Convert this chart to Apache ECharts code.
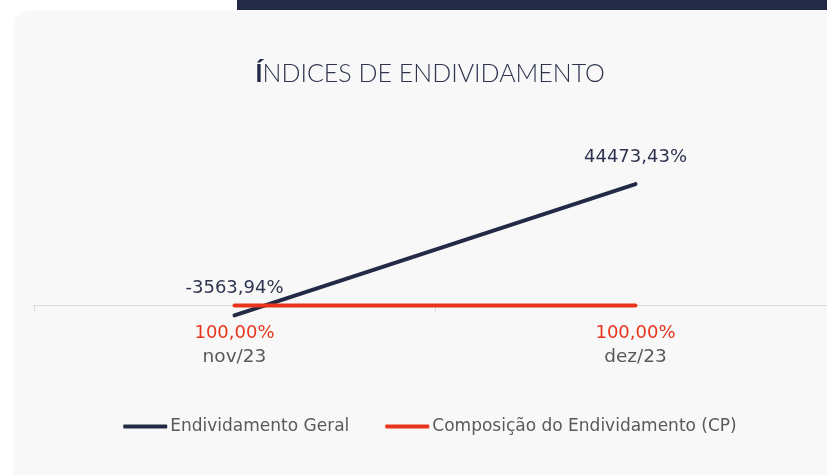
<!DOCTYPE html>
<html>
<head>
<meta charset="utf-8">
<script src="https://cdn.jsdelivr.net/npm/echarts@6/dist/echarts.min.js"></script>
<style>
  html, body { margin: 0; padding: 0; background: #fff; overflow: hidden; }
  #chart { width: 860px; height: 475px; }
</style>
</head>
<body>
<div id="chart"></div>
<script>
// dados
var meses = ['nov/23', 'dez/23']
var endividamentoGeral = [-3563.94, 44473.43]
var composicaoCP = [100.00, 100.00]
var nomes = ['Endividamento Geral', 'Composição do Endividamento (CP)']

function pct(v) {
  return v.toFixed(2).replace('.', ',') + '%'
}

var fonteTitulo = 'Lato, "Open Sans", sans-serif'
var fonte = '"DejaVu Sans", sans-serif'
var myChart = echarts.init(document.getElementById('chart'))

var option = {
  backgroundColor: '#fff',
  graphic: [
    {
      type: 'rect',
      z: -10,
      shape: { x: 14, y: 11, width: 880, height: 500, r: 16 },
      style: { fill: '#f8f8f8' }
    },
    {
      type: 'rect',
      z: -9,
      shape: { x: 237, y: 0, width: 640, height: 10 },
      style: { fill: '#222a45' }
    }
  ],
  title: {
    text: '{b|Í}NDICES DE ENDIVIDAMENTO',
    left: 'center',
    top: 56,
    textStyle: {
      fontFamily: fonteTitulo,
      fontWeight: 300,
      fontSize: 25,
      color: '#2e344f',
      rich: {
        b: { fontFamily: fonteTitulo, fontWeight: 'bold', fontSize: 25, color: '#222a45' }
      }
    }
  },
  legend: {
    bottom: 35,
    left: 'center',
    itemWidth: 44,
    itemHeight: 4,
    itemGap: 36,
    icon: 'roundRect',
    textStyle: { fontFamily: fonte, fontSize: 17, color: '#595959', padding: [0, 0, 0, -2] },
    data: nomes
  },
  grid: { left: 34, width: 802, top: 169, height: 164 },
  xAxis: {
    type: 'category',
    data: meses,
    boundaryGap: true,
    axisLine: { onZero: true, lineStyle: { color: '#d9d9d9', width: 1 } },
    axisTick: { show: true, length: 6, lineStyle: { color: '#d9d9d9' } },
    axisLabel: { margin: 15, fontFamily: fonte, fontSize: 18.5, color: '#595959' },
    splitLine: { show: false }
  },
  yAxis: {
    type: 'value',
    min: -10000,
    max: 50000,
    show: false,
    splitLine: { show: false }
  },
  series: [
    {
      name: nomes[0],
      type: 'line',
      data: endividamentoGeral,
      symbol: 'circle',
      symbolSize: 0.1,
      showSymbol: true,
      color: '#222a45',
      lineStyle: { width: 4, color: '#222a45', cap: 'round' },
      label: {
        show: true,
        position: 'top',
        distance: 18,
        fontFamily: fonte,
        fontSize: 18,
        color: '#2e344f',
        formatter: function(p) { return pct(p.value) }
      },
      z: 3
    },
    {
      name: nomes[1],
      type: 'line',
      data: composicaoCP,
      symbol: 'circle',
      symbolSize: 0.1,
      showSymbol: true,
      color: '#e8341c',
      lineStyle: { width: 4, color: '#e8341c', cap: 'round' },
      label: {
        show: true,
        position: 'bottom',
        distance: 19,
        fontFamily: fonte,
        fontSize: 18,
        color: '#e8341c',
        formatter: function(p) { return pct(p.value) }
      },
      z: 4
    }
  ]
}
myChart.setOption(option)
window.onresize = function() { myChart.resize() }
</script>
</body>
</html>
